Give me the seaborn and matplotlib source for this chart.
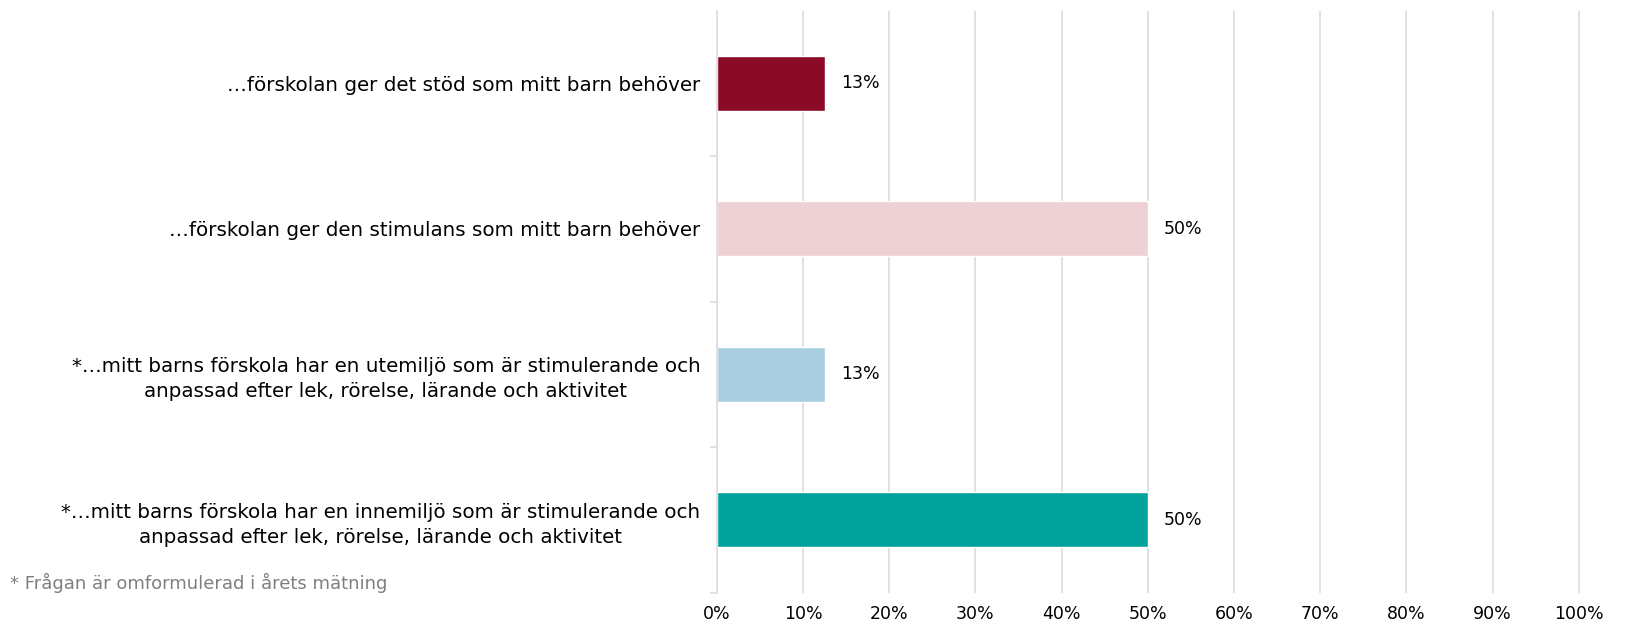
import numpy as np
import pandas as pd
import seaborn as sns
import matplotlib.pyplot as plt
from matplotlib.ticker import FixedLocator

statements = [
    "…förskolan ger det stöd som mitt barn behöver",
    "…förskolan ger den stimulans som mitt barn behöver",
    "*…mitt barns förskola har en utemiljö som är stimulerande och\nanpassad efter lek, rörelse, lärande och aktivitet",
    "*…mitt barns förskola har en innemiljö som är stimulerande och\nanpassad efter lek, rörelse, lärande och aktivitet",
]
share = [12.5, 50.0, 12.5, 50.0]
share_labels = ["13%", "50%", "13%", "50%"]
colors = ["#8B0A25", "#EDD1D4", "#A9CEE0", "#00A39B"]
x_ticks = [0, 10, 20, 30, 40, 50, 60, 70, 80, 90, 100]

df = pd.DataFrame({"statement": statements, "share": share})

sns.set_style("white")
plt.rcParams['font.family'] = ['DejaVu Sans']
plt.rcParams['text.color'] = 'black'

fig = plt.figure(figsize=(16.47, 6.25), dpi=100)
ax = fig.add_axes([0.4353, 0.052, 0.524, 0.931])

sns.barplot(data=df, x="share", y="statement", hue="statement", palette=colors,
            orient="h", width=0.38, legend=False, ax=ax, saturation=1)

ax.set_xlim(0, 100.15)
ax.set_ylim(3.5, -0.5)
ax.set_xticks(x_ticks)
ax.set_xticklabels([f"{t}%" for t in x_ticks], fontsize=12.5, color="black")
ax.grid(axis="x", color="#DEDEDE", linewidth=1.3)
ax.set_axisbelow(True)
ax.tick_params(axis="x", length=0, pad=9)
ax.tick_params(axis="y", length=0, pad=12)
ax.yaxis.set_minor_locator(FixedLocator([0.5, 1.5, 2.5, 3.5]))
ax.tick_params(axis="y", which="minor", left=True, length=5, color="#DEDEDE", width=1.3)
for lab in ax.get_yticklabels():
    lab.set_fontsize(14.3)
    lab.set_color("black")
    lab.set_multialignment("center")
    lab.set_linespacing(1.4)

for side in ["top", "right", "bottom"]:
    ax.spines[side].set_visible(False)
ax.spines["left"].set_color("#DEDEDE")
ax.spines["left"].set_linewidth(1.3)

ax.set_xlabel("")
ax.set_ylabel("")

for i, (v, lab) in enumerate(zip(share, share_labels)):
    ax.text(v + 1.9, i, lab, va="center", ha="left", fontsize=12.5, color="black")

fig.text(10 / 1647, 1 - 583 / 625, "* Frågan är omformulerad i årets mätning",
         fontsize=13, color="#7F7F7F", va="center", ha="left")

fig.savefig("out.png", dpi=100)
